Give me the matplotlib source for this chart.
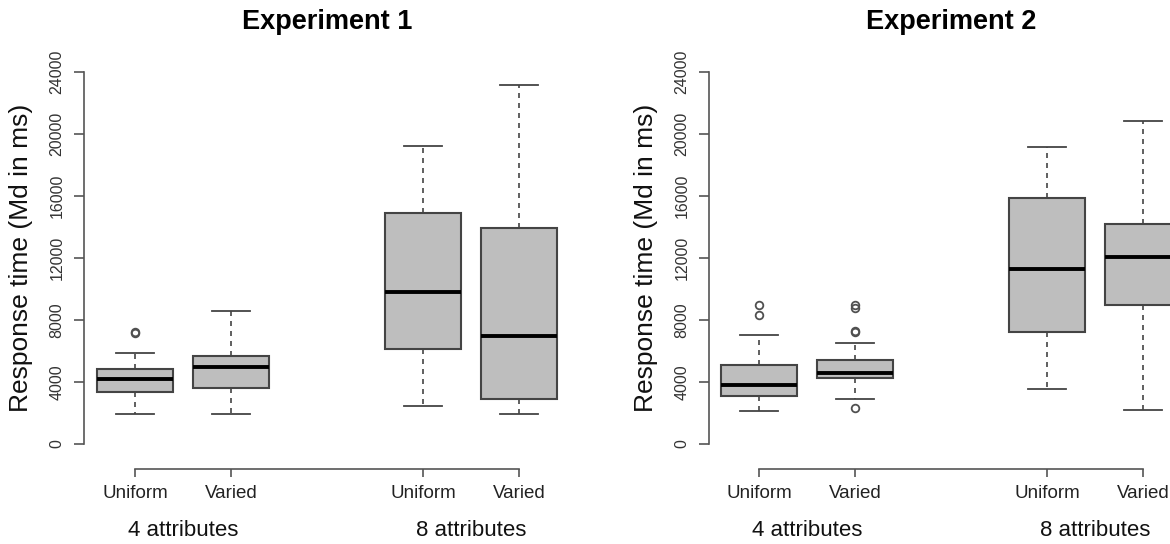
import matplotlib
matplotlib.use("Agg")
import matplotlib.pyplot as plt

plt.rcParams['font.family'] = ['Liberation Sans', 'DejaVu Sans']

# подписи
titles = ["Experiment 1", "Experiment 2"]
cond_labels = ["Uniform", "Varied", "Uniform", "Varied"]
group_labels = ["4 attributes", "8 attributes"]
positions = [1, 2, 4, 5]

# Experiment 1: whislo, q1, med, q3, whishi, выбросы
e1_lo = [1920, 1965, 2435, 1940]
e1_q1 = [3375, 3645, 6110, 2880]
e1_med = [4180, 4960, 9825, 6960]
e1_q3 = [4855, 5700, 14930, 13950]
e1_hi = [5880, 8550, 19230, 23170]
e1_out = [[7150, 7250], [], [], []]

# Experiment 2
e2_lo = [2143, 2882, 3530, 2190]
e2_q1 = [3107, 4226, 7205, 8970]
e2_med = [3823, 4585, 11300, 12065]
e2_q3 = [5077, 5390, 15900, 14170]
e2_hi = [7025, 6513, 19165, 20870]
e2_out = [[9000, 8300], [8950, 8800, 7300, 7200, 2350], [], []]

W, H = 1170, 544
fig = plt.figure(figsize=(W / 100, H / 100), dpi=100)

linec = "#444444"
axc = "#555555"


def make_stats(lo, q1, med, q3, hi, out):
    return [dict(whislo=lo[i], q1=q1[i], med=med[i], q3=q3[i], whishi=hi[i],
                 fliers=out[i]) for i in range(len(lo))]


def panel(axis_px, first_px, title, stats):
    # axis_px - где левая ось, first_px - центр первого ящика, 96 px на единицу
    unit = 96.0
    x_left = 1 - (first_px - axis_px) / unit
    width = (5.5 - x_left) * unit
    top, bottom = 59.6, 468.8
    ax = fig.add_axes([axis_px / W, (H - bottom) / H, width / W, (bottom - top) / H])
    ax.bxp(stats, positions=positions, widths=0.8, capwidths=0.4, patch_artist=True,
           boxprops=dict(facecolor="#bebebe", edgecolor=linec, linewidth=1.5),
           medianprops=dict(color="black", linewidth=2.8, solid_capstyle="butt"),
           whiskerprops=dict(color=linec, linewidth=1.2, linestyle=(0, (3, 3))),
           capprops=dict(color=linec, linewidth=1.3),
           flierprops=dict(marker="o", markerfacecolor="none", markeredgecolor="#505050",
                           markersize=5.5, markeredgewidth=1.3))
    ax.set_xlim(x_left, 5.5)
    ax.set_ylim(-1600, 24800)
    for s in ["top", "right"]:
        ax.spines[s].set_visible(False)
    ax.spines["left"].set_bounds(0, 24000)
    ax.spines["bottom"].set_bounds(1, 5)
    for s in ["left", "bottom"]:
        ax.spines[s].set_color(axc)
        ax.spines[s].set_linewidth(1.2)
    ax.set_yticks(range(0, 24001, 4000))
    ax.set_yticklabels([str(v) for v in range(0, 24001, 4000)], rotation=90, va="center",
                       fontsize=11.5, color="#333333")
    ax.set_xticks(positions)
    ax.set_xticklabels(cond_labels, fontsize=13.5, color="#222222")
    ax.tick_params(axis="y", length=7, width=1.2, color=axc, pad=7)
    ax.tick_params(axis="x", length=6, width=1.2, color=axc, pad=6)
    fig.text((axis_px - 63) / W, (H - 258) / H, "Response time (Md in ms)",
             rotation=90, ha="center", va="center", fontsize=19, color="#111111")
    for gx, gl in zip([1.5, 4.5], group_labels):
        ax.annotate(gl, xy=(gx, 13), xycoords=("data", "figure pixels"),
                    ha="center", va="center", fontsize=16, color="#111111",
                    annotation_clip=False)
    fig.text((first_px + 192) / W, (H - 22) / H, title, ha="center", va="center",
             fontsize=19.5, fontweight="bold")
    return ax


panel(84, 135, titles[0], make_stats(e1_lo, e1_q1, e1_med, e1_q3, e1_hi, e1_out))
panel(709, 759, titles[1], make_stats(e2_lo, e2_q1, e2_med, e2_q3, e2_hi, e2_out))

fig.savefig("out.png", dpi=100)
